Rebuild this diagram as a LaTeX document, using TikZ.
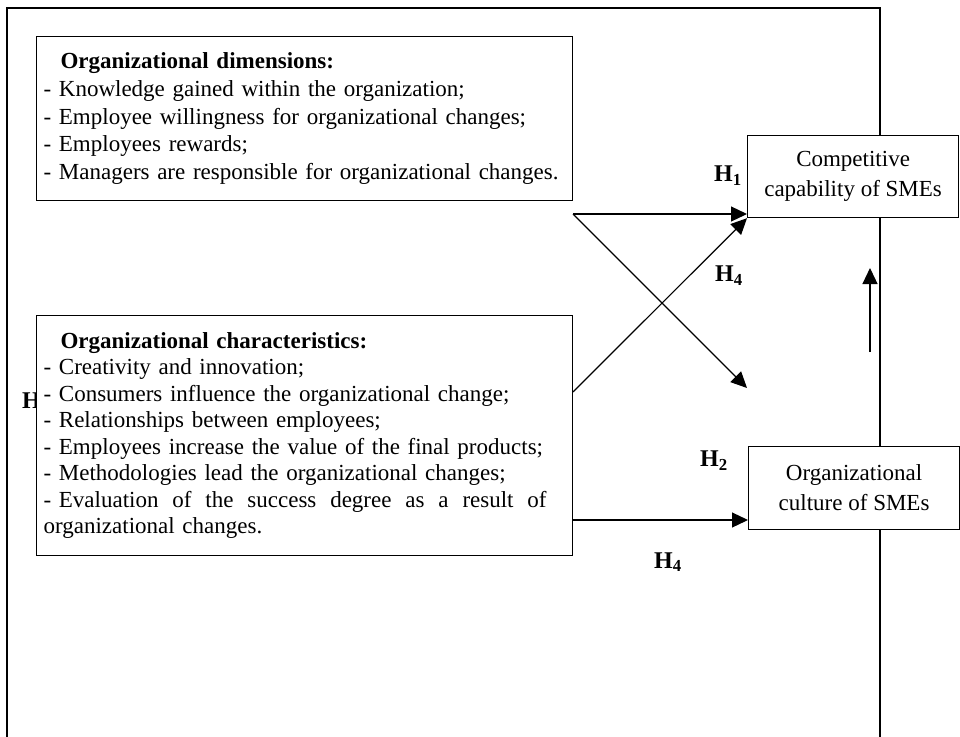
\documentclass[tikz,border=0pt]{standalone}
\usepackage{fontspec}
\setmainfont{Liberation Serif}
\usetikzlibrary{arrows.meta}
\tikzstyle{factor} = [rectangle, draw=black, line width=1.2pt, fill=white, anchor=north west, minimum width=536pt, text width=522pt, inner xsep=7pt, align=left, font=\fontsize{23}{26.5}\selectfont]
\tikzstyle{outcome} = [rectangle, draw=black, line width=1.2pt, fill=white, anchor=north west, minimum width=211pt, align=center, font=\fontsize{23}{30}\selectfont]
\tikzstyle{hyp} = [inner sep=0pt, font=\fontsize{24}{24}\selectfont\bfseries]
\tikzstyle{link} = [line width=1.2pt, -{Triangle[length=16pt,width=15pt]}]

\begin{document}
\begin{tikzpicture}[x=1pt, y=-1pt]
    \useasboundingbox (0,0) rectangle (960,736);
    % outer frame, open at the bottom
    \draw[line width=2pt] (7,745) -- (7,8) -- (880,8) -- (880,745);

    \node[hyp, anchor=west] (hthree) at (22,401) {H};

    \node[factor, minimum height=164pt, font=\fontsize{23}{27.6}\selectfont] (dims) at (36,36) {%
        \hspace*{17pt}\textbf{Organizational dimensions:}\\
        - Knowledge gained within the organization;\\
        - Employee willingness for organizational changes;\\
        - Employees rewards;\\
        - Managers are responsible for organizational changes.};

    \node[factor, minimum height=240pt] (chars) at (36,315) {%
        \hspace*{17pt}\textbf{Organizational characteristics:}\\
        - Creativity and innovation;\\
        - Consumers influence the organizational change;\\
        - Relationships between employees;\\
        - Employees increase the value of the final products;\\
        - Methodologies lead the organizational changes;\\
        \leavevmode\hbox to 503pt{- Evaluation\hfill of\hfill the\hfill success\hfill degree\hfill as\hfill a\hfill result\hfill of}\\
        organizational changes.};

    \node[outcome, minimum height=82pt] (comp) at (747,135) {Competitive\\capability of SMEs};
    \node[outcome, minimum height=83pt] (culture) at (748,446) {Organizational\\culture of SMEs};

    \coordinate (dimsout) at (573,214);
    \coordinate (charsout) at (573,392);
    \coordinate (charsmid) at (573,520);
    \coordinate (crossend) at (747,388);
    \coordinate (cultup) at (870,352);
    \coordinate (compdown) at (870,268);

    \draw[link] (dimsout) -- (dimsout -| comp.west);
    \draw[link] (dimsout) -- (crossend);
    \draw[link] (charsout) -- (comp.south west);
    \draw[link] (charsmid) -- (charsmid -| culture.west);
    \draw[link] (cultup) -- (compdown);

    \node[hyp] (hone) at (728,176) {H\textsubscript{1}};
    \node[hyp] (hfourup) at (729,276) {H\textsubscript{4}};
    \node[hyp] (htwo) at (714,461) {H\textsubscript{2}};
    \node[hyp] (hfourlow) at (668,562) {H\textsubscript{4}};
\end{tikzpicture}
\end{document}
